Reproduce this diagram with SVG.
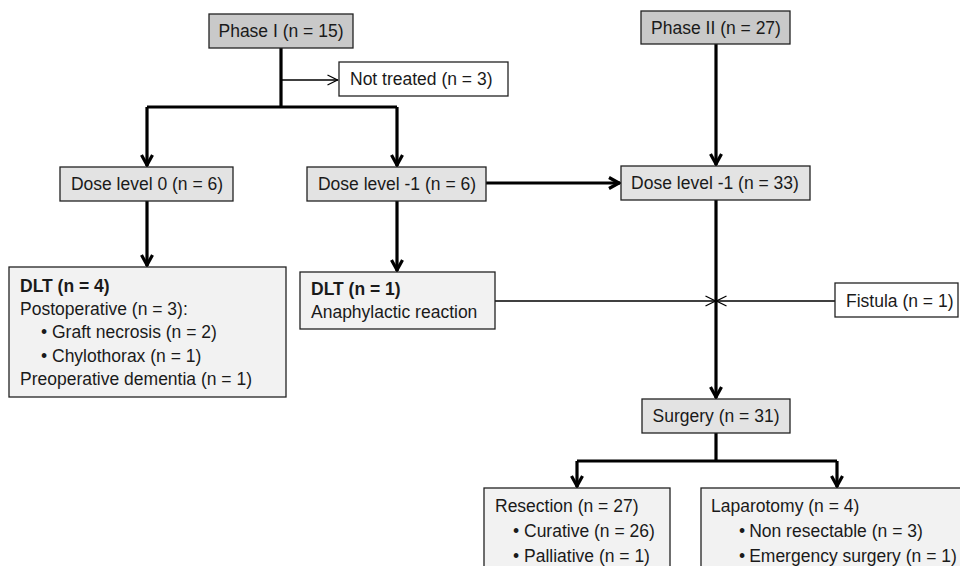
<svg xmlns="http://www.w3.org/2000/svg" width="960" height="566" viewBox="0 0 960 566">
<style>
text{font-family:"Liberation Sans",Arial,sans-serif;font-size:17.5px;fill:#1a1a1a}
.c{text-anchor:middle}
.b{font-weight:bold}
.box{stroke:#222;stroke-width:1.3}
.dark{fill:#c9c9c9}
.mid{fill:#e3e3e3}
.light{fill:#f2f2f2}
.white{fill:#fff}
.thick{stroke:#000;stroke-width:3.2;fill:none}
.thin{stroke:#000;stroke-width:1.3;fill:none}
</style>
<defs>
<marker id="ah" markerUnits="userSpaceOnUse" viewBox="0 0 14 14" refX="13" refY="7" markerWidth="14" markerHeight="14" orient="auto">
<path d="M2,1.5 L12,7 L2,12.5" fill="none" stroke="#000" stroke-width="3.2"/>
</marker>
<marker id="at" markerUnits="userSpaceOnUse" viewBox="0 0 12 12" refX="11.5" refY="6" markerWidth="12" markerHeight="12" orient="auto">
<path d="M1,1 L11,6 L1,11" fill="none" stroke="#000" stroke-width="1.3"/>
</marker>
</defs>
<rect width="960" height="566" fill="#fff"/>
<g id="connectors">
<path class="thick" d="M281,48 V107"/>
<path class="thin" d="M281,80 H338" marker-end="url(#at)"/>
<path class="thick" d="M147,107 H397"/>
<path class="thick" d="M147,107 V166" marker-end="url(#ah)"/>
<path class="thick" d="M397,107 V166" marker-end="url(#ah)"/>
<path class="thick" d="M716,44 V165" marker-end="url(#ah)"/>
<path class="thick" d="M486,183 H620" marker-end="url(#ah)"/>
<path class="thick" d="M147,201 V266" marker-end="url(#ah)"/>
<path class="thick" d="M397,201 V271" marker-end="url(#ah)"/>
<path class="thick" d="M716,200 V398" marker-end="url(#ah)"/>
<path class="thin" d="M495,301 H716" marker-end="url(#at)"/>
<path class="thin" d="M835,301 H716" marker-end="url(#at)"/>
<path class="thick" d="M716,433 V461"/>
<path class="thick" d="M577,461 H837"/>
<path class="thick" d="M577,461 V487" marker-end="url(#ah)"/>
<path class="thick" d="M837,461 V487" marker-end="url(#ah)"/>
</g>
<g id="phase1">
<rect class="box dark" x="209" y="14" width="144" height="34"/>
<text class="c" x="281" y="37">Phase I (n = 15)</text>
</g>
<g id="nottreated">
<rect class="box white" x="339" y="62" width="169" height="34"/>
<text x="350" y="85">Not treated (n = 3)</text>
</g>
<g id="phase2">
<rect class="box dark" x="641" y="11" width="149" height="33"/>
<text class="c" x="716" y="34">Phase II (n = 27)</text>
</g>
<g id="dose0">
<rect class="box mid" x="60" y="167" width="173" height="34"/>
<text class="c" x="147" y="190">Dose level 0 (n = 6)</text>
</g>
<g id="dose1a">
<rect class="box mid" x="307" y="167" width="179" height="34"/>
<text class="c" x="397" y="190">Dose level -1 (n = 6)</text>
</g>
<g id="dose1b">
<rect class="box mid" x="621" y="166" width="189" height="34"/>
<text class="c" x="715" y="189">Dose level -1 (n = 33)</text>
</g>
<g id="dlt4">
<rect class="box light" x="9" y="267" width="277" height="130"/>
<text class="b" x="20" y="292">DLT (n = 4)</text>
<text x="20" y="315">Postoperative (n = 3):</text>
<text x="41" y="338">• Graft necrosis (n = 2)</text>
<text x="41" y="362">• Chylothorax (n = 1)</text>
<text x="20" y="385">Preoperative dementia (n = 1)</text>
</g>
<g id="dlt1">
<rect class="box light" x="300" y="272" width="195" height="57"/>
<text class="b" x="311" y="295">DLT (n = 1)</text>
<text x="311" y="318">Anaphylactic reaction</text>
</g>
<g id="fistula">
<rect class="box white" x="835" y="283" width="123" height="34"/>
<text x="846" y="307">Fistula (n = 1)</text>
</g>
<g id="surgery">
<rect class="box mid" x="642" y="399" width="148" height="34"/>
<text class="c" x="716" y="422">Surgery (n = 31)</text>
</g>
<g id="resection">
<rect class="box light" x="484" y="488" width="186" height="90"/>
<text x="495" y="512">Resection (n = 27)</text>
<text x="513" y="537">• Curative (n = 26)</text>
<text x="513" y="562">• Palliative (n = 1)</text>
</g>
<g id="laparotomy">
<rect class="box light" x="701" y="488" width="265" height="90"/>
<text x="711" y="512">Laparotomy (n = 4)</text>
<text x="739" y="537">•<tspan dx="4">Non resectable (n = 3)</tspan></text>
<text x="739" y="562">•<tspan dx="4">Emergency surgery (n = 1)</tspan></text>
</g>
</svg>
